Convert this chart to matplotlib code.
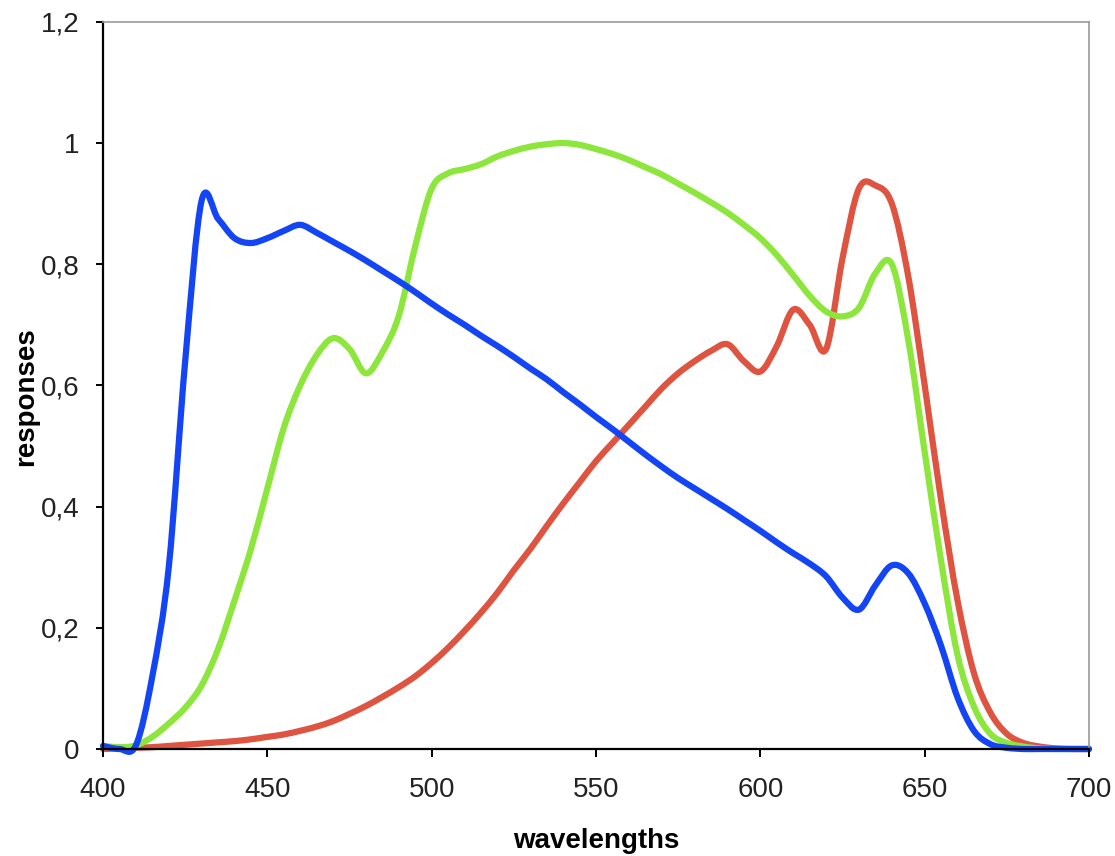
import matplotlib
matplotlib.use("Agg")
import matplotlib.pyplot as plt
from matplotlib.path import Path
from matplotlib.patches import PathPatch
from matplotlib.ticker import FuncFormatter, MultipleLocator

# wavelengths every 5 nm
wavelengths = list(range(400, 705, 5))

blue = [0.005, 0.0, 0.006, 0.12, 0.30, 0.64, 0.905, 0.875, 0.843, 0.835,
        0.843, 0.855, 0.865, 0.852, 0.837, 0.822, 0.806, 0.789, 0.772, 0.754,
        0.735, 0.717, 0.70, 0.682, 0.665, 0.647, 0.628, 0.61, 0.589, 0.569,
        0.548, 0.528, 0.507, 0.486, 0.466, 0.447, 0.43, 0.413, 0.396, 0.378,
        0.36, 0.341, 0.323, 0.306, 0.285, 0.25, 0.23, 0.27, 0.303, 0.29,
        0.24, 0.17, 0.085, 0.03, 0.008, 0.002, 0.0, 0.0, 0.0, 0.0,
        0.0]

green = [0.005, 0.003, 0.006, 0.02, 0.042, 0.068, 0.105, 0.165, 0.245, 0.33,
         0.43, 0.53, 0.60, 0.65, 0.678, 0.66, 0.62, 0.655, 0.715, 0.83,
         0.925, 0.95, 0.957, 0.965, 0.978, 0.987, 0.994, 0.998, 1.0, 0.997,
         0.99, 0.982, 0.972, 0.96, 0.948, 0.933, 0.918, 0.902, 0.885, 0.865,
         0.843, 0.815, 0.782, 0.748, 0.722, 0.714, 0.728, 0.785, 0.80, 0.675,
         0.49, 0.31, 0.155, 0.07, 0.025, 0.01, 0.004, 0.001, 0.0, 0.0,
         0.0]

red = [0.0, 0.001, 0.002, 0.003, 0.005, 0.007, 0.009, 0.011, 0.013, 0.016,
       0.02, 0.024, 0.03, 0.037, 0.046, 0.058, 0.071, 0.086, 0.102, 0.12,
       0.142, 0.167, 0.195, 0.225, 0.258, 0.295, 0.33, 0.368, 0.405, 0.44,
       0.475, 0.505, 0.535, 0.565, 0.595, 0.62, 0.64, 0.657, 0.668, 0.64,
       0.623, 0.665, 0.725, 0.70, 0.66, 0.81, 0.925, 0.93, 0.90, 0.78,
       0.60, 0.41, 0.245, 0.125, 0.06, 0.025, 0.01, 0.004, 0.001, 0.0,
       0.0]


def smooth_path(xs, ys):
    # bezier segments through the points, like a spreadsheet "smoothed line"
    pts = list(zip(xs, ys))
    n = len(pts)
    verts = [pts[0]]
    codes = [Path.MOVETO]
    for i in range(n - 1):
        p0 = pts[i - 1] if i > 0 else pts[i]
        p1 = pts[i]
        p2 = pts[i + 1]
        p3 = pts[i + 2] if i + 2 < n else pts[i + 1]
        c1 = (p1[0] + (p2[0] - p0[0]) / 6, p1[1] + (p2[1] - p0[1]) / 6)
        c2 = (p2[0] - (p3[0] - p1[0]) / 6, p2[1] - (p3[1] - p1[1]) / 6)
        verts += [c1, c2, p2]
        codes += [Path.CURVE4] * 3
    return Path(verts, codes)


plt.rcParams['font.family'] = ['Liberation Sans', 'DejaVu Sans']

fig = plt.figure(figsize=(11.15, 8.56), dpi=100)
ax = fig.add_axes([0.0924, 0.125, 0.8843, 0.8495])

lw = 4.5
for ys, col in [(red, '#DE5440'), (green, '#8CE63C'), (blue, '#1445F5')]:
    patch = PathPatch(smooth_path(wavelengths, ys), facecolor='none',
                      edgecolor=col, lw=lw, clip_on=False,
                      joinstyle='round', capstyle='round')
    ax.add_patch(patch)

ax.set_xlim(400, 700)
ax.set_ylim(0, 1.2)
ax.xaxis.set_major_locator(MultipleLocator(50))
ax.yaxis.set_major_locator(MultipleLocator(0.2))
ax.yaxis.set_major_formatter(FuncFormatter(lambda v, p: f"{v:g}".replace('.', ',')))

for side in ['left', 'bottom']:
    ax.spines[side].set_color('black')
    ax.spines[side].set_linewidth(1.6)
for side in ['top', 'right']:
    ax.spines[side].set_color('#999999')
    ax.spines[side].set_linewidth(1.2)

ax.tick_params(axis='x', direction='out', length=6, width=1.4,
               labelsize=20, pad=14, colors='black', labelcolor='#222222')
ax.tick_params(axis='y', direction='out', length=5, width=1.4,
               labelsize=20, pad=12, colors='black', labelcolor='#222222')

ax.set_xlabel('wavelengths', fontsize=20, fontweight='bold', va='center')
ax.set_ylabel('responses', fontsize=20, fontweight='bold', va='center')
ax.xaxis.set_label_coords(0.5, -0.126)
ax.yaxis.set_label_coords(-0.078, 0.485)

fig.savefig('out.png', dpi=100)
